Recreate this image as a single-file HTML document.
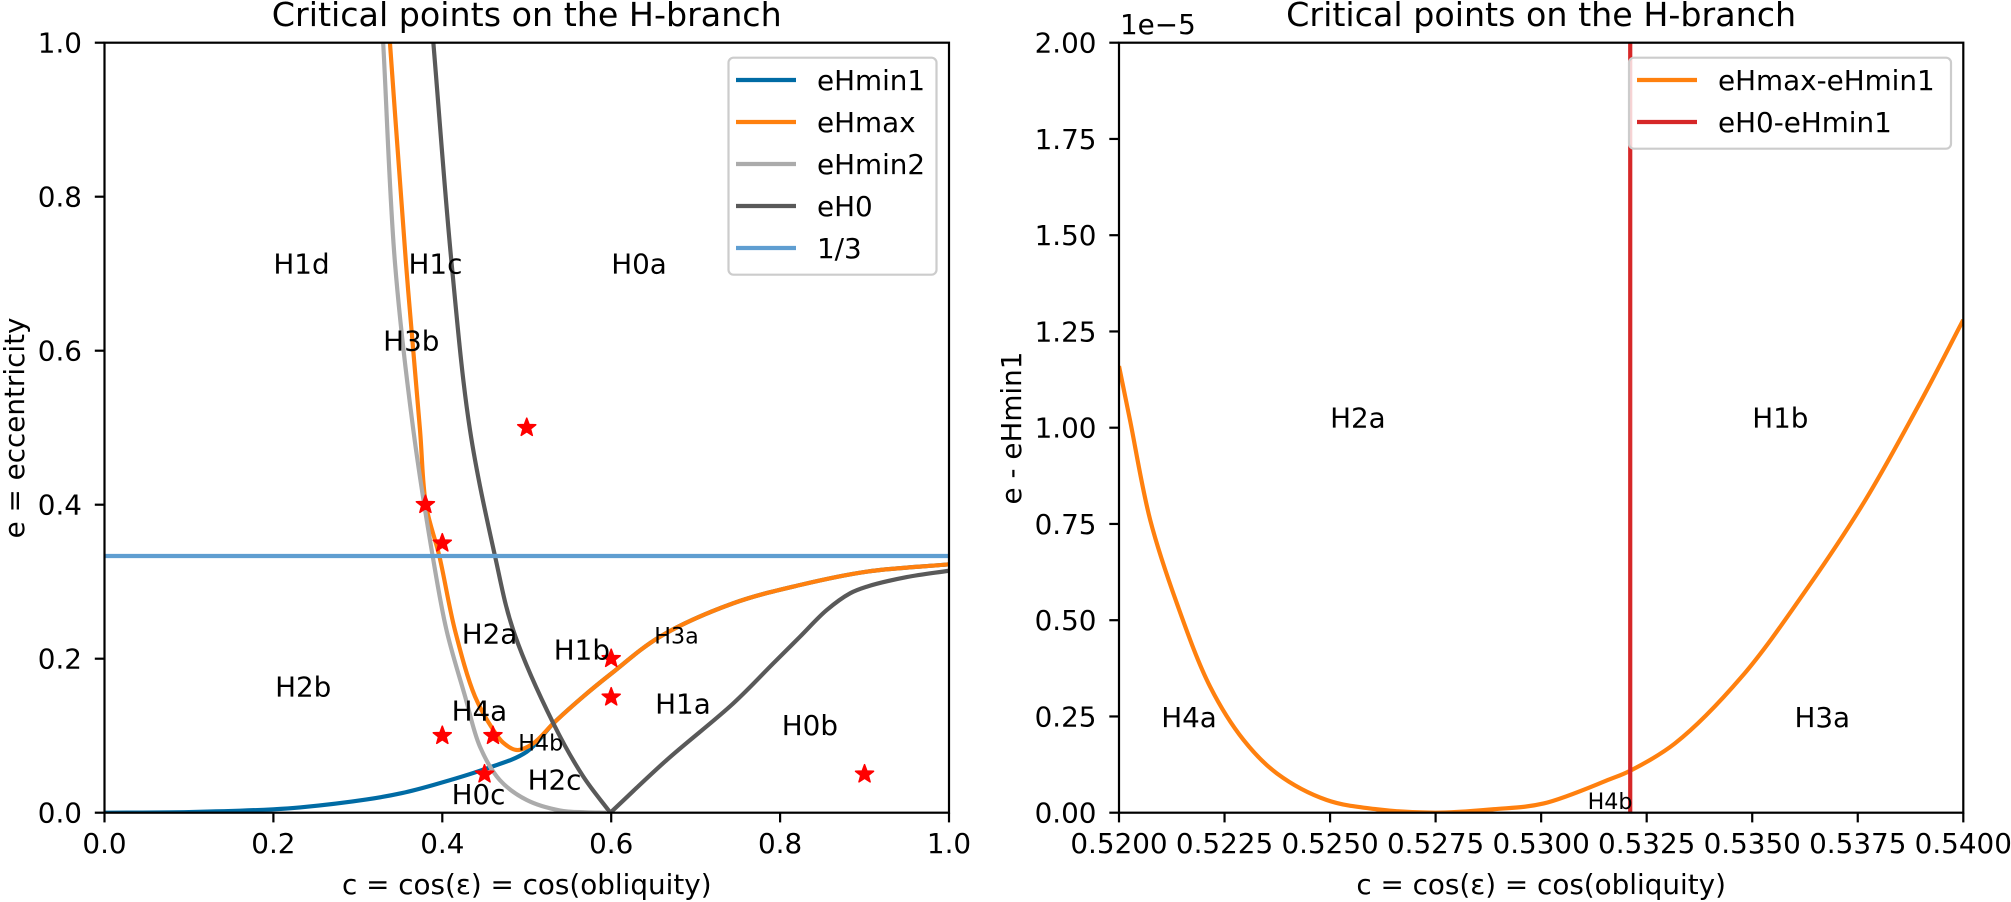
<!DOCTYPE html>
<html><head><meta charset="utf-8"><style>
html,body{margin:0;padding:0;background:#fff;}
svg{display:block;font-family:"DejaVu Sans","Liberation Sans",sans-serif;}
</style></head><body>
<svg id="fig" width="2011" height="902" viewBox="0 0 2011 902" xmlns="http://www.w3.org/2000/svg">
<rect width="2011" height="902" fill="#fff"/>
</svg>
<script>
// ---------- LEFT CHART DATA ----------
const xTicksL = [0.0, 0.2, 0.4, 0.6, 0.8, 1.0];
const yTicksL = [0.0, 0.2, 0.4, 0.6, 0.8, 1.0];
const eHmin1C = [0, 0.1, 0.2, 0.2315, 0.3105, 0.3523, 0.3894, 0.4486, 0.5, 0.5315, 0.567, 0.6005, 0.6578, 0.7446, 0.8236, 0.9025, 1.0];
const eHmin1E = [0, 0.0008, 0.0044, 0.0068, 0.0172, 0.0255, 0.036, 0.056, 0.0792, 0.116, 0.151, 0.181, 0.2286, 0.272, 0.2957, 0.313, 0.3226];
const eHmaxC = [0.338, 0.357, 0.3736, 0.3807, 0.3965, 0.415, 0.4387, 0.4604, 0.472, 0.488, 0.5078, 0.5315, 0.567, 0.6005, 0.6578, 0.7446, 0.8236, 0.9025, 1.0];
const eHmaxE = [1.0, 0.7135, 0.497, 0.3996, 0.3333, 0.237, 0.151, 0.1074, 0.091, 0.0814, 0.0901, 0.116, 0.151, 0.181, 0.2286, 0.272, 0.2957, 0.313, 0.3226];
const eHmin2C = [0.330, 0.344, 0.3657, 0.3886, 0.405, 0.427, 0.4446, 0.468, 0.5, 0.539, 0.57, 0.594];
const eHmin2E = [1.0, 0.7135, 0.497, 0.3333, 0.237, 0.151, 0.0857, 0.0425, 0.0165, 0.003, 0.0005, 0.0];
const eH0C = [0.3894, 0.411, 0.4328, 0.4624, 0.484, 0.5315, 0.567, 0.599, 0.6657, 0.7446, 0.792, 0.8236, 0.855, 0.883, 0.9025, 0.95, 1.0];
const eH0E = [1.0, 0.7135, 0.497, 0.3333, 0.237, 0.116, 0.0468, 0.0, 0.0684, 0.142, 0.194, 0.2286, 0.263, 0.285, 0.2935, 0.306, 0.3143];
const eH0CuspIndex = 7;
const thirdE = [1/3];
const starC = [0.5, 0.38, 0.4, 0.6, 0.6, 0.4, 0.46, 0.45, 0.9];
const starE = [0.5, 0.4, 0.35, 0.2, 0.15, 0.1, 0.1, 0.05, 0.05];
const regionNames = ["H1d","H1c","H0a","H3b","H2a","H1b","H3a","H1a","H0b","H2b","H4a","H4b","H2c","H0c"];
const regionC = [0.2, 0.36, 0.6, 0.33, 0.423, 0.532, 0.651, 0.652, 0.802, 0.202, 0.411, 0.49, 0.501, 0.411];
const regionE = [0.7, 0.7, 0.7, 0.6, 0.22, 0.199, 0.22, 0.129, 0.101, 0.151, 0.12, 0.0805, 0.03, 0.011];
const regionSmall = [0,0,0,0,0,0,1,0,0,0,0,1,0,0];
// ---------- RIGHT CHART DATA ----------
const xTicksR = [0.52, 0.5225, 0.525, 0.5275, 0.53, 0.5325, 0.535, 0.5375, 0.54];
const yTicksR = [0.0, 0.25, 0.5, 0.75, 1.0, 1.25, 1.5, 1.75, 2.0];
const diffC = [0.52, 0.52026, 0.52074, 0.52137, 0.52216, 0.52295, 0.52374, 0.52492, 0.5261, 0.5275, 0.52887, 0.53006, 0.53163, 0.53211, 0.53317, 0.53475, 0.53633, 0.53768, 0.539, 0.54];
const diffV = [1.16, 1.02, 0.76, 0.544, 0.327, 0.189, 0.102, 0.033, 0.009, 0.0, 0.009, 0.024, 0.087, 0.109, 0.18, 0.353, 0.587, 0.812, 1.07, 1.28];
const eH0lineC = [0.53211];
const rNames = ["H2a","H1b","H4a","H3a","H4b"];
const rC = [0.525, 0.535, 0.521, 0.536, 0.5311];
const rV = [1.0, 1.0, 0.222, 0.222, 0.01];
const rSmall = [0,0,0,0,1];

const NS = "http://www.w3.org/2000/svg";
const svg = document.getElementById("fig");
function mk(tag, attrs, parent) {
  const el = document.createElementNS(NS, tag);
  for (const k in attrs) el.setAttribute(k, attrs[k]);
  (parent || svg).appendChild(el);
  return el;
}
const FS = 27.8, FSsmall = 22.2, FStitle = 33.3;

const L = {x0:104.5, x1:949, y0:812.7, y1:42.7, xmin:0, xmax:1, ymin:0, ymax:1};
const R = {x0:1119, x1:1963.3, y0:812.7, y1:42.7, xmin:0.52, xmax:0.54, ymin:0, ymax:2};
function sx(a, v){ return a.x0 + (v - a.xmin) / (a.xmax - a.xmin) * (a.x1 - a.x0); }
function sy(a, v){ return a.y0 - (v - a.ymin) / (a.ymax - a.ymin) * (a.y0 - a.y1); }

function clip(a, id){
  const d = mk("defs", {});
  const cp = mk("clipPath", {id:id}, d);
  mk("rect", {x:a.x0, y:a.y1, width:a.x1-a.x0, height:a.y0-a.y1}, cp);
}
clip(L, "clipL"); clip(R, "clipR");

// centripetal Catmull-Rom path
function smoothD(P){
  const n = P.length;
  const Q = [[2*P[0][0]-P[1][0], 2*P[0][1]-P[1][1]]].concat(P, [[2*P[n-1][0]-P[n-2][0], 2*P[n-1][1]-P[n-2][1]]]);
  const dist = (a,b)=> Math.max(1e-6, Math.pow(Math.hypot(b[0]-a[0], b[1]-a[1]), 0.5));
  let d = "M" + P[0][0].toFixed(2) + "," + P[0][1].toFixed(2);
  for (let i=1;i<Q.length-2;i++){
    const p0=Q[i-1], p1=Q[i], p2=Q[i+1], p3=Q[i+2];
    const d1=dist(p0,p1), d2=dist(p1,p2), d3=dist(p2,p3);
    const b1 = [0,1].map(k => (d1*d1*p2[k] - d2*d2*p0[k] + (2*d1*d1 + 3*d1*d2 + d2*d2)*p1[k]) / (3*d1*(d1+d2)));
    const b2 = [0,1].map(k => (d3*d3*p1[k] - d2*d2*p3[k] + (2*d3*d3 + 3*d3*d2 + d2*d2)*p2[k]) / (3*d3*(d3+d2)));
    d += " C" + b1[0].toFixed(2)+","+b1[1].toFixed(2)+" "+b2[0].toFixed(2)+","+b2[1].toFixed(2)+" "+p2[0].toFixed(2)+","+p2[1].toFixed(2);
  }
  return d;
}
function line(a, xs, ys, color, name, clipId, breakIdx){
  const P = xs.map((x,i)=> [sx(a,x), sy(a,ys[i])]);
  let d;
  if (breakIdx !== undefined) d = smoothD(P.slice(0, breakIdx+1)) + " " + smoothD(P.slice(breakIdx));
  else if (P.length === 2) d = "M"+P[0][0]+","+P[0][1]+" L"+P[1][0]+","+P[1][1];
  else d = smoothD(P);
  const p = mk("path", {d:d, fill:"none", stroke:color, "stroke-width":4.2, "stroke-linejoin":"round", "stroke-linecap":"butt", "clip-path":"url(#"+clipId+")"});
  
  
  return p;
}
function text(x, y, str, size, anchor, name, extra){
  const t = mk("text", Object.assign({x:x, y:y, "font-size":size, "text-anchor":anchor||"start", fill:"#000"}, extra||{}));
  t.textContent = str;
  
  
  return t;
}
function starPath(cx, cy, r){
  let d = "";
  for (let i=0;i<10;i++){
    const rr = i%2===0 ? r : r*0.42;
    const ang = -Math.PI/2 + i*Math.PI/5;
    d += (i===0?"M":"L") + (cx+rr*Math.cos(ang)).toFixed(2) + "," + (cy+rr*Math.sin(ang)).toFixed(2);
  }
  return d + "Z";
}
function axesFrame(a, xt, yt, xfmt, yfmt, prefix){
  xt.forEach((v)=>{
    const x = sx(a,v);
    const tk = mk("line", {x1:x, x2:x, y1:a.y0, y2:a.y0+9.7, stroke:"#000", "stroke-width":2.2});
    
    
    text(x, 853, xfmt(v), FS, "middle", prefix+"-x-tick-label");
  });
  yt.forEach((v)=>{
    const y = sy(a,v);
    const tk = mk("line", {x1:a.x0-9.7, x2:a.x0, y1:y, y2:y, stroke:"#000", "stroke-width":2.2});
    
    
    text(a.x0-22.5, y+10, yfmt(v), FS, "end", prefix+"-y-tick-label");
  });
  const fr = mk("rect", {x:a.x0, y:a.y1, width:a.x1-a.x0, height:a.y0-a.y1, fill:"none", stroke:"#000", "stroke-width":2.2});
  
  
  text((a.x0+a.x1)/2, 26, "Critical points on the H-branch", FStitle, "middle", prefix+"-title");
  text((a.x0+a.x1)/2, 894, "c = cos(\u03b5) = cos(obliquity)", FS, "middle", prefix+"-x-axis-title");
}

// ---------- LEFT CHART ----------
line(L, eHmin1C, eHmin1E, "#006ba4", "eHmin1-line", "clipL");
line(L, eHmaxC, eHmaxE, "#ff800e", "eHmax-line", "clipL");
line(L, eHmin2C, eHmin2E, "#ababab", "eHmin2-line", "clipL");
line(L, eH0C, eH0E, "#595959", "eH0-line", "clipL", eH0CuspIndex);
line(L, [0,1], [thirdE[0], thirdE[0]], "#5f9ed1", "one-third-line", "clipL");
starC.forEach((c,i)=>{
  const s = mk("path", {d:starPath(sx(L,c), sy(L,starE[i]), 9.5), fill:"#ff0000", stroke:"#ff0000", "stroke-width":1.5, "stroke-linejoin":"round"});
  
  
});
regionNames.forEach((n,i)=>{
  text(sx(L,regionC[i]), sy(L,regionE[i]), n, regionSmall[i]?FSsmall:FS, "start", "region-label-"+n.toLowerCase());
});
axesFrame(L, xTicksL, yTicksL, v=>v.toFixed(1), v=>v.toFixed(1), "left");
text(0, 0, "e = eccentricity", FS, "middle", "left-y-axis-title", {transform:"translate(24,428) rotate(-90)"});

const lg = mk("g", {});


mk("rect", {x:728.5, y:57.7, width:208, height:217, rx:5, fill:"#fff", "fill-opacity":0.8, stroke:"#cccccc", "stroke-width":2.2}, lg);
const legNames = ["eHmin1","eHmax","eHmin2","eH0","1/3"];
const legColors = ["#006ba4","#ff800e","#ababab","#595959","#5f9ed1"];
legNames.forEach((n,i)=>{
  const y = 80 + i*42;
  const ln = mk("line", {x1:736, x2:796, y1:y, y2:y, stroke:legColors[i], "stroke-width":4.2}, lg);
  
  
  const t = mk("text", {x:817, y:y+10, "font-size":FS, fill:"#000"}, lg);
  t.textContent = n;
  
  
});

// ---------- RIGHT CHART ----------
line(R, diffC, diffV, "#ff800e", "eHmax-minus-eHmin1-line", "clipR");
line(R, [eH0lineC[0], eH0lineC[0]], [0, 2], "#d62728", "eH0-minus-eHmin1-line", "clipR");
rNames.forEach((n,i)=>{
  text(sx(R,rC[i]), sy(R,rV[i]), n, rSmall[i]?FSsmall:FS, "start", "right-region-label-"+n.toLowerCase());
});
axesFrame(R, xTicksR, yTicksR, v=>v.toFixed(4), v=>v.toFixed(2), "right");
text(1120, 34, "1e\u22125", FS, "start", "right-y-offset-text");
text(0, 0, "e - eHmin1", FS, "middle", "right-y-axis-title", {transform:"translate(1021,428) rotate(-90)"});

const rg = mk("g", {});


mk("rect", {x:1629, y:57.7, width:322, height:91, rx:5, fill:"#fff", "fill-opacity":0.8, stroke:"#cccccc", "stroke-width":2.2}, rg);
const rlegNames = ["eHmax-eHmin1","eH0-eHmin1"];
const rlegColors = ["#ff800e","#d62728"];
rlegNames.forEach((n,i)=>{
  const y = 80 + i*42;
  const ln = mk("line", {x1:1637, x2:1697, y1:y, y2:y, stroke:rlegColors[i], "stroke-width":4.2}, rg);
  
  
  const t = mk("text", {x:1718, y:y+10, "font-size":FS, fill:"#000"}, rg);
  t.textContent = n;
  
  
});
</script>
</body></html>
